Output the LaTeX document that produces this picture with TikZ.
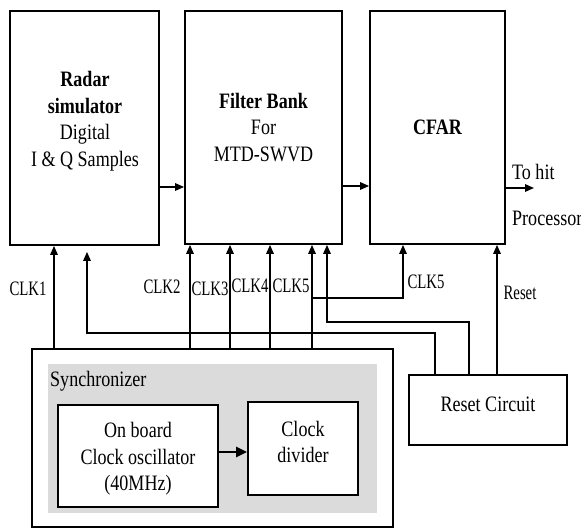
\documentclass[tikz,border=0pt]{standalone}
\usepackage{fontspec}
\setmainfont{Liberation Serif}[FakeStretch=0.82]
\newfontfamily\lblfont{Liberation Serif}[FakeStretch=0.72]
\usetikzlibrary{arrows.meta}
\begin{document}
\begin{tikzpicture}[x=1pt,y=-1pt,
  box/.style={draw, line width=1.8pt, inner sep=0pt},
  txt/.style={font=\fontsize{22}{26.5}\selectfont, align=center, inner sep=0pt},
  lbl/.style={font=\lblfont\fontsize{20.5}{22}\selectfont, inner sep=0pt},
  wire/.style={line width=1.6pt},
  conn/.style={line width=1.6pt, -{Triangle[length=9pt,width=7.5pt]}},
  thick conn/.style={line width=2.6pt, -{Triangle[length=11pt,width=10pt]}}]
\useasboundingbox (0,0) rectangle (581,529);

% main blocks
\node[box, minimum width=149pt, minimum height=234pt] (radar) at (84.5,128) {};
\node[txt] (radartxt) at (85,121) {\textbf{Radar}\\\textbf{simulator}\\Digital\\I \& Q Samples};
\node[box, txt, minimum width=157pt, minimum height=233pt] (filter) at (263.5,127.5) {\textbf{Filter Bank}\\For\\MTD-SWVD};
\node[box, txt, minimum width=135pt, minimum height=233pt] (cfar) at (437.5,127.5) {\textbf{CFAR}};

% synchronizer
\node[box, minimum width=361pt, minimum height=178pt] (sync) at (212.5,438) {};
\node[fill=gray!28, inner sep=0pt, minimum width=329pt, minimum height=149pt] (syncin) at (212.5,438.5) {};
\node[txt, anchor=west] (synclbl) at (50,381) {Synchronizer};
\node[box, fill=white, minimum width=160pt, minimum height=102pt] (osc) at (138,456) {};
\node[txt] (osctxt) at (138,459) {On board\\Clock oscillator\\(40MHz)};
\node[box, fill=white, minimum width=110pt, minimum height=93pt] (div) at (303,448.5) {};
\node[txt] (divtxt) at (303,442) {Clock\\divider};

% reset circuit
\node[box, minimum width=158pt, minimum height=70pt] (reset) at (488,410) {};
\node[txt] (resettxt) at (488,404) {Reset Circuit};

% data path
\draw[conn] (radar.east |- 0,187) -- (filter.west |- 0,187);
\draw[conn] (filter.east |- 0,186) -- (cfar.west |- 0,186);
\coordinate (outp) at (534,188);
\draw[conn] (cfar.east |- outp) -- (outp);
\node[txt, anchor=west] (tohit) at (512,172) {To hit};
\node[txt, anchor=west] (proc) at (512,218) {Processor};

% oscillator to divider
\draw[thick conn] (osc.east |- 0,452) -- (div.west |- 0,452);

% clocks
\draw[conn] (sync.north -| 54,0) -- (radar.south -| 54,0);
\draw[conn] (sync.north -| 190,0) -- (filter.south -| 190,0);
\draw[conn] (sync.north -| 230,0) -- (filter.south -| 230,0);
\draw[conn] (sync.north -| 270,0) -- (filter.south -| 270,0);
\draw[conn] (sync.north -| 312,0) -- (filter.south -| 312,0);
\coordinate (clkfive) at (312,298);
\draw[conn] (clkfive) -| (cfar.south -| 403,0);

% resets
\draw[conn, shorten >=6pt] (reset.north -| 435,0) |- (87,333) -- (radar.south -| 87,0);
\draw[conn] (reset.north -| 469,0) |- (327,322) -- (filter.south -| 327,0);
\draw[conn] (reset.north -| 497,0) -- (cfar.south -| 497,0);

% labels
\node[lbl] (l1) at (28,289) {CLK1};
\node[lbl] (l2) at (162,287) {CLK2};
\node[lbl] (l3) at (210,289) {CLK3};
\node[lbl] (l4) at (250,286) {CLK4};
\node[lbl] (l5) at (291,286) {CLK5};
\node[lbl] (l6) at (426,282) {CLK5};
\node[lbl] (l7) at (520,293) {Reset};
\end{tikzpicture}
\end{document}
